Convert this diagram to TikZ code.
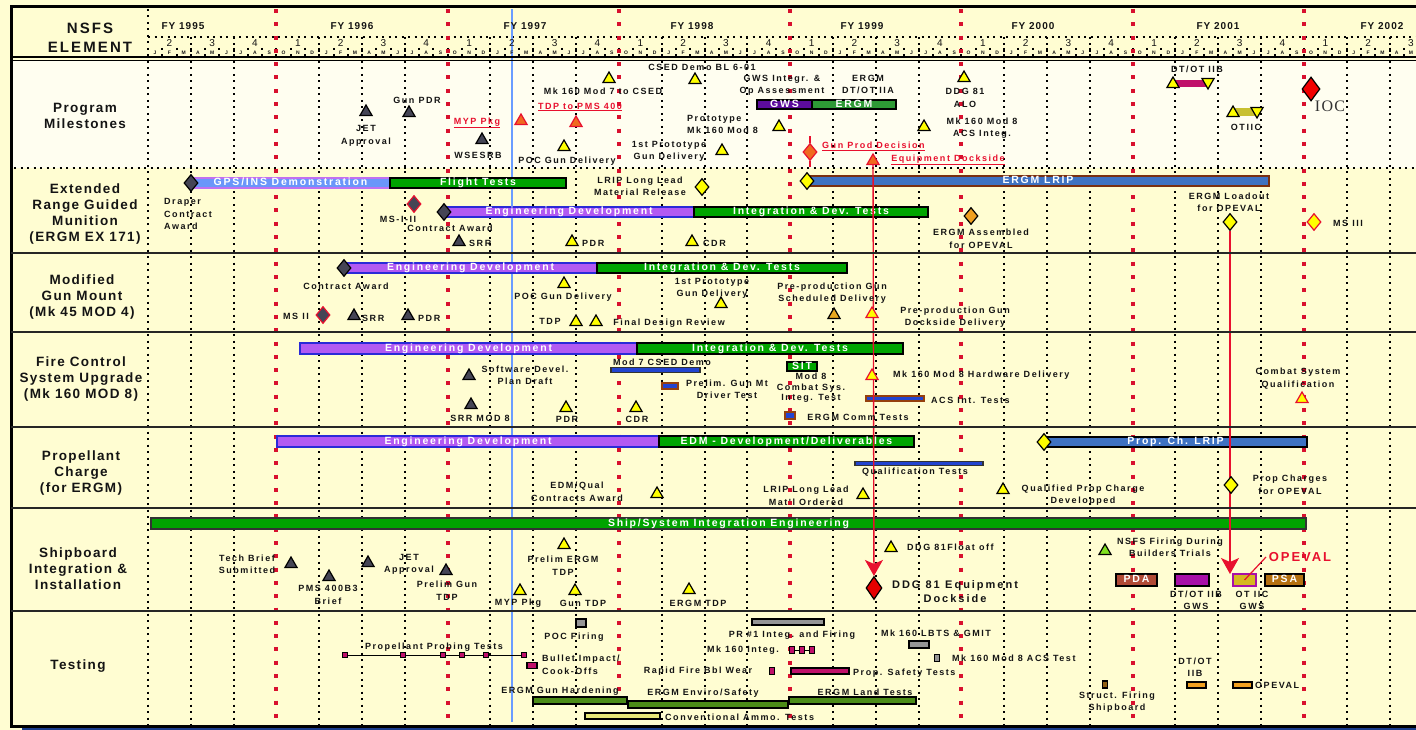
\documentclass[tikz,border=0pt]{standalone}
\usepackage{fontspec}
\setmainfont{Liberation Sans}
\newfontfamily\lblf{Liberation Sans}[LetterSpace=17]
\newfontfamily\rowf{Liberation Sans}[LetterSpace=10]
\newfontfamily\barfnt{Liberation Sans}[LetterSpace=17]
\newfontfamily\nsfsf{Liberation Sans}[LetterSpace=14]
\newfontfamily\fyf{Liberation Sans}[LetterSpace=10]
\newfontfamily\bigf{Liberation Sans}[LetterSpace=18]
\newfontfamily\opf{Liberation Sans}[LetterSpace=15]
\newfontfamily\iocfnt{Liberation Serif}[LetterSpace=8]
\usetikzlibrary{shapes.geometric,arrows.meta}
\pgfdeclarelayer{bgl}\pgfdeclarelayer{barl}\pgfdeclarelayer{arr}
\pgfsetlayers{bgl,barl,arr,main}
\definecolor{bgc}{HTML}{FFFDD2}
\definecolor{bgm}{HTML}{FFFEF0}
\definecolor{txtc}{HTML}{141414}
\definecolor{redc}{HTML}{E8102E}
\definecolor{gridred}{HTML}{D8102E}
\definecolor{yel}{HTML}{FFFF00}
\definecolor{darkm}{HTML}{454555}
\definecolor{orng}{HTML}{F06A1E}
\definecolor{gold}{HTML}{E8A820}
\definecolor{purp}{HTML}{B25AF2}
\definecolor{edb}{HTML}{2A2AD8}
\definecolor{grn}{HTML}{00A400}
\definecolor{lblue}{HTML}{6A96FA}
\definecolor{lpur}{HTML}{C070F0}
\definecolor{steel}{HTML}{3E72C2}
\definecolor{brn}{HTML}{7A3010}
\definecolor{gwsp}{HTML}{5C0C9C}
\definecolor{ergg}{HTML}{2E9A36}
\definecolor{mag}{HTML}{C0106A}
\definecolor{olive}{HTML}{C8C030}
\definecolor{blu}{HTML}{2244D0}
\definecolor{gry}{HTML}{959595}
\definecolor{dgrn}{HTML}{4C8C18}
\definecolor{pale}{HTML}{E8E878}
\definecolor{orb}{HTML}{F0A020}
\definecolor{pdac}{HTML}{B04A36}
\definecolor{vio}{HTML}{A810A8}
\definecolor{oti}{HTML}{D6B820}
\definecolor{psac}{HTML}{B47010}
\definecolor{navy}{HTML}{1A3C8C}
\definecolor{lgrn}{HTML}{80E020}
\definecolor{bline}{HTML}{6A9CFF}
\tikzset{
 lbl/.style={font=\lblf\bfseries\fontsize{9}{12.5}\selectfont, text=txtc, inner sep=0pt, align=center},
 redlbl/.style={lbl, text=redc},
 rowlbl/.style={font=\rowf\bfseries\fontsize{13.5}{16}\selectfont, text=txtc, inner sep=0pt, align=center},
 tri/.style={regular polygon, regular polygon sides=3, minimum size=14pt, inner sep=0pt, draw=black, line width=1.2pt},
 ytri/.style={tri, fill=yel},
 dtri/.style={tri, fill=darkm},
 otri/.style={tri, fill=orng, draw=redc},
 rtri/.style={tri, fill=yel, draw=redc},
 dntri/.style={tri, fill=yel, shape border rotate=180},
 dia/.style={diamond, inner sep=0pt, minimum width=14pt, minimum height=17pt, line width=1.2pt, draw=black},
 gdia/.style={dia, fill=darkm},
 rgdia/.style={dia, fill=darkm, draw=redc},
 ydia/.style={dia, fill=yel},
 yrdia/.style={dia, fill=yel, draw=redc},
 odia/.style={dia, fill=orng, draw=redc},
 oadia/.style={dia, fill=orb},
 barbase/.style={rectangle, inner sep=0pt, outer sep=0pt, line width=1.3pt, minimum height=10pt, text height=7pt, text depth=1.5pt, text=white, font=\barfnt\bfseries\fontsize{10.5}{12}\selectfont},
 boxbase/.style={rectangle, inner sep=0pt, outer sep=0pt, line width=1.1pt, draw=black},
 rdot/.style={draw=gridred, line width=4pt, dash pattern=on 4pt off 9.3pt},
 vdot/.style={draw=black, line width=2pt, dash pattern=on 2pt off 4.5pt},
 hdot/.style={draw=black, line width=2pt, dash pattern=on 2pt off 4.5pt},
 sepline/.style={draw=black!85, line width=1.6pt},
 redarrow/.style={draw=redc, line width=1.4pt, -{Stealth[length=16pt,width=18pt,inset=4pt]}},
}
\newcommand\gbar[6][]{\node[barbase,#1,minimum width={#4-#3},anchor=west] (#2) at (#3,#5) {#6};}
\newcommand\gbox[6][]{\node[boxbase,#1,minimum width={#4-#3},minimum height=#6,anchor=west] (#2) at (#3,#5) {};}
\begin{document}
\begin{tikzpicture}[x=1pt,y=-1pt]
\useasboundingbox (0,0) rectangle (1416,730);
\begin{pgfonlayer}{bgl}
\fill[bgc] (0,0) rectangle (1416,730);
\fill[bgm] (12,61) rectangle (1416,168);
% grid
\draw[vdot] (148,9) -- (148,726);
\foreach \m in {3,6,12,15,18,24,27,30,36,39,42,48,51,54,60,63,66,72,75,78,84,87}{
  \draw[vdot] ({148+14.27*\m},61) -- ({148+14.27*\m},726);
  \draw[vdot] ({148+14.27*\m},37) -- ({148+14.27*\m},57);
}
\foreach \m in {1,...,88}{
  \draw[vdot] ({148+14.27*\m},48) -- ({148+14.27*\m},56);
}
\draw[hdot] (148,37) -- (1416,37);
\foreach \m in {9,21,33,45,57,69,81}{
  \draw[rdot] ({148+14.27*\m},9) -- ({148+14.27*\m},726);
}
\draw[hdot] (14,168) -- (1416,168);
\draw[bline, line width=1.6pt] (512,9) -- (512,722);
\end{pgfonlayer}
% frame
\draw[line width=3pt] (1430,7) -- (11.5,7) -- (11.5,726) -- (1430,726);
\fill[navy] (22,727.6) rectangle (1416,731);
\draw[line width=1.8pt] (11,57) -- (1416,57);
\draw[line width=1pt] (11,60.5) -- (1416,60.5);
\foreach \y in {253,332,427,508,611}{\draw[sepline] (11,\y) -- (1416,\y);}
% header
\node[font=\nsfsf\bfseries\fontsize{15}{19}\selectfont, text=txtc, align=center, inner sep=0pt] (nsfs) at (90,37.5) {NSFS\\ELEMENT};
\foreach \x/\t [count=\i] in {183/1995,352/1996,525/1997,692/1998,862/1999,1033/2000,1218/2001,1382/2002}{
  \node[font=\fyf\bfseries\fontsize{10}{12}\selectfont, text=txtc, inner sep=0pt] (fy\i) at (\x,26) {FY \t};
}
\foreach \q in {0,...,29}{
  \pgfmathtruncatemacro\dq{mod(\q+1,4)+1}
  \node[font=\fontsize{10}{12}\selectfont, text=txtc, inner sep=0pt] (qd\q) at ({148+14.27*(3*\q+1.5)},43) {\dq};
}
\foreach \m in {0,...,88}{
  \pgfmathtruncatemacro\k{mod(\m,12)}
  \node[font=\bfseries\fontsize{5}{6}\selectfont, text=txtc, inner sep=0pt] (mo\m) at ({148+14.27*(\m+0.5)},53) {\ifcase\k J\or F\or M\or A\or M\or J\or J\or A\or S\or O\or N\or D\fi};
}
% row labels
\node[rowlbl] (rpm) at (85,116) {Program\\Milestones};
\node[rowlbl] (rergm) at (85,214) {Extended\\Range Guided\\Munition\\(ERGM EX 171)};
\node[rowlbl] (rgun) at (82,297.5) {Modified\\Gun Mount\\(Mk 45 MOD 4)};
\node[rowlbl] (rfc) at (81,379.5) {Fire Control\\System Upgrade\\(Mk 160 MOD 8)};
\node[rowlbl] (rprop) at (81,473.5) {Propellant\\Charge\\(for ERGM)};
\node[rowlbl] (rship) at (78,569) {Shipboard\\Integration \&\\Installation};
\node[rowlbl] (rtest) at (78,666) {Testing};

% ===== bars =====
\begin{pgfonlayer}{barl}
\gbar[fill=gwsp,draw=black,minimum height=9pt]{gws}{757}{812}{104.5}{GWS}
\gbar[fill=ergg,draw=black,minimum height=9pt]{ergmb}{812}{896}{104.5}{ERGM}
\gbox[fill=mag,draw=mag]{dtbbar}{1173}{1208}{83.5}{5}
\gbox[fill=olive,draw=olive]{otcbar}{1233}{1257}{112}{6}
\gbar[fill=lblue,draw=lpur]{gps}{191}{390}{183}{GPS/INS Demonstration}
\gbar[fill=grn,draw=black]{flt}{390}{566}{183}{Flight Tests}
\gbar[fill=purp,draw=edb]{ed1}{444}{694}{212}{Engineering Development}
\gbar[fill=grn,draw=black]{idt1}{694}{928}{212}{Integration \& Dev. Tests}
\gbar[fill=steel,draw=brn]{lripb}{807}{1269}{181}{ERGM LRIP}
\gbar[fill=purp,draw=edb]{ed2}{344}{597}{268}{Engineering Development}
\gbar[fill=grn,draw=black]{idt2}{597}{847}{268}{Integration \& Dev. Tests}
\gbar[fill=purp,draw=edb,minimum height=11pt]{ed3}{300}{637}{348.5}{Engineering Development}
\gbar[fill=grn,draw=black,minimum height=11pt]{idt3}{637}{903}{348.5}{Integration \& Dev. Tests}
\gbox[fill=blu,draw=black!80]{mod7}{611}{700}{370}{4.5}
\gbox[fill=blu,draw=brn!80!orange]{prelg}{662}{678}{386}{6}
\gbar[fill=grn,draw=black,minimum height=9pt]{sit}{787}{817}{366.5}{SIT}
\gbox[fill=blu,draw=brn!80!orange]{commt}{785}{795}{415.5}{7}
\gbox[fill=blu,draw=brn!80!orange]{acsb}{866}{924}{398.5}{5}
\gbar[fill=purp,draw=edb,minimum height=11pt]{ed4}{277}{659}{441.5}{Engineering Development}
\gbar[fill=grn,draw=black,minimum height=11pt]{edm}{659}{914}{441.5}{EDM - Development/Deliverables}
\gbox[fill=blu,draw=black!80]{qualb}{855}{983}{463.5}{4}
\gbar[fill=steel,draw=black]{pclrip}{1044}{1307}{442}{Prop. Ch. LRIP}
\gbar[fill=grn,draw=black!80,minimum height=11pt]{ssie}{151}{1306}{523.5}{Ship/System Integration Engineering}
\gbar[fill=pdac,draw=black,minimum height=12pt]{pda}{1116}{1157}{580}{PDA}
\gbar[fill=vio,draw=black,minimum height=12pt]{dtot2}{1175}{1209}{580}{}
\gbar[fill=oti,draw=vio,minimum height=12pt]{otiic}{1233}{1256}{580}{}
\gbar[fill=psac,draw=black,minimum height=12pt]{psa}{1265}{1304}{580}{PSA}
\gbox[fill=gry]{pocf}{576}{586}{623}{8}
\gbox[fill=gry]{pr1}{752}{824}{622}{6}
\gbox[fill=mag]{pst}{791}{849}{671}{6}
\gbox[fill=gry]{lbts}{909}{929}{644.5}{7}
\gbox[fill=dgrn]{egh}{533}{627}{700.5}{7}
\gbox[fill=dgrn]{ees}{628}{788}{704.5}{7}
\gbox[fill=dgrn]{elt}{789}{916}{700.5}{7}
\gbox[fill=pale]{cat}{585}{660}{716}{6}
\gbox[fill=orb]{dtot3}{1187}{1206}{685}{6}
\gbox[fill=orb]{opev2}{1233}{1252}{685}{6}
\end{pgfonlayer}

% ===== Program Milestones =====
\node[dtri] (jet) at (366,112) {};
\node[lbl] (jetl) at (366,136) {JET\\Approval};
\node[dtri] (gunpdr) at (409,113) {};
\node[lbl] (gunpdrl) at (417,100) {Gun PDR};
\node[dtri] (wsesrb) at (482,140) {};
\node[lbl] (wsesrbl) at (478,155) {WSESRB};
\node[otri] (myp) at (521,121) {};
\node[redlbl] (mypl) at (477,123) {\underline{MYP Pkg}};
\node[otri] (tdp) at (576,123) {};
\node[redlbl] (tdpl) at (580,107) {\underline{TDP to PMS 400}};
\node[ytri] (mk7) at (609,79) {};
\node[lbl] (mk7l) at (603,91) {Mk 160 Mod 7 to CSED};
\node[ytri] (csed) at (695,80) {};
\node[lbl] (csedl) at (702,67) {CSED Demo BL 6-01};
\node[lbl] (gwsl) at (782,85.5) {GWS Integr. \&\\Op Assessment};
\node[lbl] (dtotal) at (868,84.5) {ERGM\\DT/OT IIA};
\node[ytri] (proto) at (779,127) {};
\node[lbl, align=left, anchor=west] (protol) at (687,124.5) {Prototype\\Mk 160 Mod 8};
\node[ytri] (first) at (722,151) {};
\node[lbl] (firstl) at (669,151.5) {1st Prototype\\Gun Delivery};
\node[ytri] (pocg) at (564,147) {};
\node[lbl] (pocgl) at (567,161) {POC Gun Delivery};
\node[odia] (gunprod) at (810,152) {};
\draw[redc, line width=1.3pt] (gunprod.north) -- ++(0,-7);
\draw[redc, line width=1.3pt] (gunprod.south) -- ++(0,6);
\node[redlbl, anchor=west] (gunprodl) at (822,146) {\underline{Gun Prod Decision}};
\node[otri] (eqdock) at (873,161) {};
\node[redlbl] (eqdockl) at (948,160) {\underline{Equipment Dockside}};
\node[ytri] (ddgalo) at (964,78) {};
\node[lbl] (ddgalol) at (965,98) {DDG 81\\ALO};
\node[ytri] (acs) at (924,127) {};
\node[lbl] (acsl) at (982,128) {Mk 160 Mod 8\\ACS Integ.};
\node[lbl] (dtotbl) at (1197,69) {DT/OT IIB};
\node[ytri] (dtb1) at (1173,84) {};
\node[dntri] (dtb2) at (1208,82) {};
\node[ytri] (otc1) at (1233,113) {};
\node[dntri] (otc2) at (1257,111) {};
\node[lbl] (otcl) at (1246,127) {OTIIC};
\node[dia, fill=red!95!black, minimum width=18pt, minimum height=24pt] (ioc) at (1311,89) {};
\node[font=\iocfnt\fontsize{16}{18}\selectfont, text=black!80, inner sep=0pt] (iocl) at (1330,106) {IOC};

% ===== ERGM =====
\node[gdia] (draper) at (191,183) {};
\node[lbl, align=left, anchor=west] (draperl) at (164,214) {Draper\\Contract\\Award};
\node[rgdia] (ms12) at (414,204) {};
\node[lbl] (ms12l) at (398,219) {MS-I-II};
\node[gdia] (ca1) at (444,212) {};
\node[lbl] (ca1l) at (450,228) {Contract Award};
\node[dtri] (srr1) at (459,242) {};
\node[lbl, anchor=west] (srr1l) at (469,243) {SRR};
\node[ytri] (pdr1) at (572,242) {};
\node[lbl, anchor=west] (pdr1l) at (582,243) {PDR};
\node[ytri] (cdr1) at (692,242) {};
\node[lbl, anchor=west] (cdr1l) at (703,243) {CDR};
\node[lbl] (lrip1l) at (640,186.5) {LRIP Long Lead\\Material Release};
\node[ydia] (lrip1) at (702,187) {};
\node[ydia] (lrip2) at (807,181) {};
\node[oadia] (assem) at (971,216) {};
\node[lbl] (asseml) at (981,239) {ERGM Assembled\\for OPEVAL};
\node[lbl] (loadl) at (1229,202.5) {ERGM Loadout\\for OPEVAL};
\node[ydia] (load) at (1230,222) {};
\node[yrdia] (ms3) at (1314,222) {};
\node[lbl, anchor=west] (ms3l) at (1333,223) {MS III};

% ===== Gun Mount =====
\node[gdia] (ca2) at (344,268) {};
\node[lbl] (ca2l) at (346,286) {Contract Award};
\node[lbl] (ms2l) at (296,316) {MS II};
\node[rgdia] (ms2) at (323,315) {};
\node[dtri] (srr2) at (354,316) {};
\node[lbl, anchor=west] (srr2l) at (362,318) {SRR};
\node[dtri] (pdr2) at (408,316) {};
\node[lbl, anchor=west] (pdr2l) at (418,318) {PDR};
\node[ytri] (pocg2) at (564,284) {};
\node[lbl] (pocg2l) at (563,297) {POC Gun Delivery};
\node[lbl] (tdp2l) at (550,321) {TDP};
\node[ytri] (tdp2) at (576,322) {};
\node[ytri] (fdr) at (596,322) {};
\node[lbl] (fdrl) at (669,323) {Final Design Review};
\node[lbl] (first2l) at (712,288.5) {1st Prototype\\Gun Delivery};
\node[ytri] (first2) at (721,304) {};
\node[lbl] (pre1l) at (832,293) {Pre-production Gun\\Scheduled Delivery};
\node[tri, fill=gold] (pre1) at (834,315) {};
\node[rtri] (pre2) at (872,314) {};
\node[lbl] (pre2l) at (955,317) {Pre-production Gun\\Dockside Delivery};

% ===== Fire Control =====
\node[dtri] (sdp) at (469,376) {};
\node[lbl] (sdpl) at (525,375.5) {Software Devel.\\Plan Draft};
\node[dtri] (srr3) at (471,405) {};
\node[lbl] (srr3l) at (480,418) {SRR MOD 8};
\node[ytri] (pdr3) at (566,408) {};
\node[lbl] (pdr3l) at (567,419) {PDR};
\node[ytri] (cdr3) at (636,408) {};
\node[lbl] (cdr3l) at (637,419) {CDR};
\node[lbl] (mod7l) at (662,362) {Mod 7 CSED Demo};
\node[lbl] (prelgl) at (727,389.5) {Prelim. Gun Mt\\Driver Test};
\node[lbl, font=\lblf\bfseries\fontsize{9}{10.5}\selectfont] (mod8l) at (811,388) {Mod 8\\Combat Sys.\\Integ. Test};
\node[lbl] (commtl) at (858,417) {ERGM Comm Tests};
\node[rtri] (hw) at (872,376) {};
\node[lbl, anchor=west] (hwl) at (893,375) {Mk 160 Mod 8 Hardware Delivery};
\node[lbl, anchor=west] (acsl2) at (931,400) {ACS Int. Tests};
\node[lbl] (csql) at (1298,378.5) {Combat System\\Qualification};
\node[rtri] (csq) at (1302,399) {};

% ===== Propellant =====
\node[lbl] (quall) at (915,472) {Qualification Tests};
\node[ydia] (lrip3) at (1044,442) {};
\node[lbl] (edmql) at (577,492) {EDM/Qual\\Contracts Award};
\node[ytri] (edmq) at (657,494) {};
\node[lbl] (llml) at (806,496) {LRIP Long Lead\\Mat'l Ordered};
\node[ytri] (llm) at (863,495) {};
\node[ytri] (qpc) at (1003,490) {};
\node[lbl] (qpcl) at (1083,495) {Qualified Prop Charge\\Developped};
\node[ydia] (pcop) at (1231,485) {};
\node[lbl] (pcopl) at (1290,485) {Prop Charges\\for OPEVAL};

% ===== Shipboard =====
\node[lbl] (techl) at (247,564.5) {Tech Brief\\Submitted};
\node[dtri] (tech) at (291,564) {};
\node[dtri] (pms) at (329,577) {};
\node[lbl] (pmsl) at (328,595) {PMS 400B3\\Brief};
\node[dtri] (jet2) at (368,563) {};
\node[lbl] (jet2l) at (409,564.5) {JET\\Approval};
\node[dtri] (pgt) at (446,571) {};
\node[lbl] (pgtl) at (447,590.5) {Prelim Gun\\TDP};
\node[ytri] (pet) at (564,545) {};
\node[lbl] (petl) at (563,565.5) {Prelim ERGM\\TDP};
\node[ytri] (myp2) at (520,591) {};
\node[lbl] (myp2l) at (518,603) {MYP Pkg};
\node[ytri] (gtdp) at (575,591) {};
\node[lbl] (gtdpl) at (583,603) {Gun TDP};
\node[ytri] (etdp) at (689,590) {};
\node[lbl] (etdpl) at (698,603) {ERGM TDP};
\node[ytri] (float) at (891,548) {};
\node[lbl, anchor=west] (floatl) at (907,547) {DDG 81Float off};
\node[dia, fill=red!90!black, minimum width=16pt, minimum height=23pt] (ddg) at (874,588) {};
\node[font=\bigf\bfseries\fontsize{11}{14}\selectfont, text=txtc, align=center, inner sep=0pt] (ddgl) at (955,592) {DDG 81\enspace Equipment\\Dockside};
\node[tri, fill=lgrn] (nsfsf) at (1105,551) {};
\node[lbl] (nsfsfl) at (1170,547.5) {NSFS Firing During\\Builders Trials};
\node[lbl] (dtot2l) at (1196,600.5) {DT/OT IIB\\GWS};
\node[lbl] (otiic2l) at (1252,600.5) {OT IIC\\GWS};
\node[font=\opf\bfseries\fontsize{13}{15}\selectfont, text=redc, inner sep=0pt] (opeval) at (1300,557) {OPEVAL};
\coordinate (opevt) at (1266,557);
\draw[redc, line width=1.2pt] (opevt) -- (otiic.center);

% ===== Testing =====
\node[lbl] (pptl) at (434,647) {Propellant Probing Tests};
\foreach \x [count=\i] in {345,403,443,462,486,524}{
  \node[boxbase, fill=mag, minimum width=5pt, minimum height=5pt] (pp\i) at (\x,655) {};
}
\draw[line width=0.8pt] (pp1) -- (pp2) -- (pp3) -- (pp4) -- (pp5) -- (pp6);
\node[boxbase, fill=mag, minimum width=10pt, minimum height=6pt] (bic) at (532,665.5) {};
\node[lbl, align=left, anchor=west] (bicl) at (542,665) {Bullet Impact/\\Cook-Offs};
\node[lbl] (pocfl) at (574,637) {POC Firing};
\node[lbl] (pr1l) at (792,635) {PR \#1 Integ. and Firing};
\node[lbl] (mk160il) at (743,650) {Mk 160 Integ.};
\foreach \x [count=\i] in {792,802,812}{
  \node[boxbase, fill=mag, minimum width=4.5pt, minimum height=7pt] (mi\i) at (\x,650) {};
}
\draw[line width=0.8pt] (mi1) -- (mi2) -- (mi3);
\node[lbl] (rfbl) at (698,671) {Rapid Fire Bbl Wear};
\node[boxbase, fill=mag, minimum width=4.5pt, minimum height=7pt] (rfb) at (772,671) {};
\node[lbl, anchor=west] (pstl) at (853,673) {Prop. Safety Tests};
\node[lbl] (lbtsl) at (936,633) {Mk 160 LBTS \& GMIT};
\node[boxbase, fill=gry, minimum width=4.5pt, minimum height=7pt] (acst) at (937,658) {};
\node[lbl, anchor=west] (acstl) at (952,658) {Mk 160 Mod 8 ACS Test};
\node[lbl] (eghl) at (560,691) {ERGM Gun Hardening};
\node[lbl] (eesl) at (703,693) {ERGM Enviro/Safety};
\node[lbl] (eltl) at (865,692) {ERGM Land Tests};
\node[lbl, anchor=west] (catl) at (665,717) {Conventional Ammo. Tests};
\node[boxbase, fill=orb!60!black, minimum width=4.5pt, minimum height=7pt] (sfs) at (1105,684.5) {};
\node[lbl] (sfsl) at (1117,702) {Struct. Firing\\Shipboard};
\node[lbl] (dtot3l) at (1195,667) {DT/OT\\IIB};
\node[lbl, anchor=west] (opev2l) at (1255,685) {OPEVAL};

% ===== red arrows =====
\begin{pgfonlayer}{arr}
\draw[redarrow] (eqdock) -- (ddg);
\draw[redarrow] (load) -- (load |- otiic.north);
\end{pgfonlayer}
\end{tikzpicture}
\end{document}
